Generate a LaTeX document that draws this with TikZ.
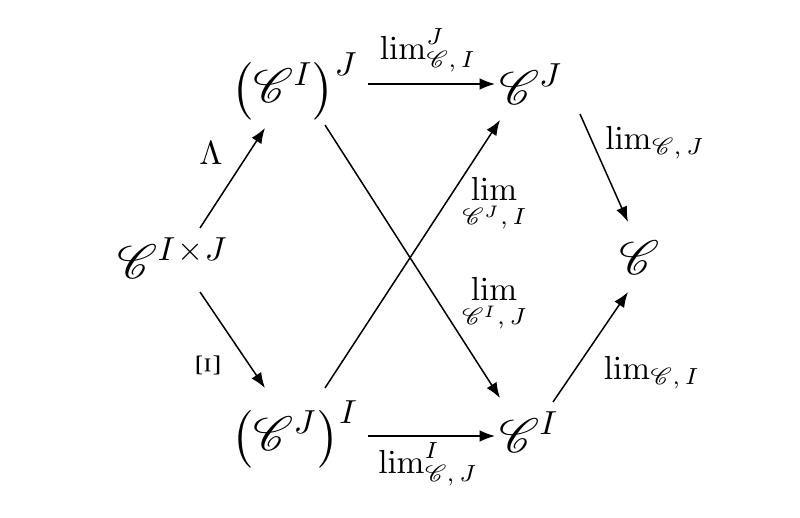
\documentclass[tikz,border=0pt]{standalone}
\usepackage{amsmath}
\usepackage{mathrsfs}
\usetikzlibrary{arrows.meta}
\begin{document}
\begin{tikzpicture}[x=0.3pt,y=-0.3pt,
  obj/.style={inner sep=0pt,font=\Large},
  arr/.style={-{Latex[length=4.6pt,width=3.5pt]}, line width=0.45pt},
  lbl/.style={inner sep=0pt}]
\useasboundingbox (0,0) rectangle (800,518);
\node[obj] (A) at (173,258) {$\mathscr{C}^{I\mkern1mu\times\mkern1mu J}$};
\node[obj] (B) at (295,86) {$\left(\mathscr{C}^{I}\right)^{J}$};
\node[obj] (CJ) at (531,84) {$\mathscr{C}^{J}$};
\node[obj] (C) at (640,258) {$\mathscr{C}$};
\node[obj] (D) at (295,434) {$\left(\mathscr{C}^{J}\right)^{I}$};
\node[obj] (CI) at (529,432) {$\mathscr{C}^{I}$};
% arrow end points
\coordinate (As) at (200,228);
\coordinate (Bs) at (265,128);
\coordinate (Ae) at (200,292);
\coordinate (De) at (265,388);
\draw[arr] (As) -- (Bs);
\draw[arr] (Ae) -- (De);
\coordinate (Bt) at (368,84);
\coordinate (CJt) at (495,84);
\draw[arr] (Bt) -- (CJt);
\coordinate (Dt) at (368,436);
\coordinate (CIt) at (495,436);
\draw[arr] (Dt) -- (CIt);
\coordinate (Bx) at (325,125);
\coordinate (CIx) at (500,398);
\draw[arr] (Bx) -- (CIx);
\coordinate (Dx) at (325,388);
\coordinate (CJx) at (500,120);
\draw[arr] (Dx) -- (CJx);
\coordinate (CJr) at (580,114);
\coordinate (Cr1) at (628,222);
\draw[arr] (CJr) -- (Cr1);
\coordinate (CIr) at (553,402);
\coordinate (Cr2) at (628,292);
\draw[arr] (CIr) -- (Cr2);
% labels
\node[lbl] (l1) at (428,50) {$\lim^{J}_{\mathscr{C},\,I}$};
\node[lbl] (l2) at (428,464) {$\lim^{I}_{\mathscr{C},\,J}$};
\node[lbl] (l3) at (655,143) {$\lim_{\mathscr{C},\,J}$};
\node[lbl] (l4) at (652,373) {$\lim_{\mathscr{C},\,I}$};
\node[lbl] (l5) at (494,205) {$\displaystyle\lim_{\mathscr{C}^{J},\,I}$};
\node[lbl] (l6) at (494,305) {$\displaystyle\lim_{\mathscr{C}^{I},\,J}$};
\node[lbl] (l7) at (211,153) {$\Lambda$};
\node[lbl,rotate=90] (l8) at (208,365) {$\Xi$};
\end{tikzpicture}
\end{document}
